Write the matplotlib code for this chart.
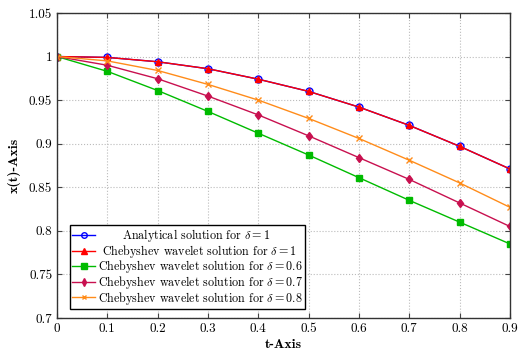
import matplotlib
matplotlib.use("Agg")
import matplotlib.pyplot as plt
from matplotlib.ticker import FixedLocator, FixedFormatter

plt.rcParams['font.family'] = 'serif'
plt.rcParams['font.serif'] = ['cmr10', 'DejaVu Serif']
plt.rcParams['mathtext.fontset'] = 'cm'
plt.rcParams['axes.unicode_minus'] = False

t = [0, 0.1, 0.2, 0.3, 0.4, 0.5, 0.6, 0.7, 0.8, 0.9]
analytical_d1 = [1.0, 0.999, 0.994, 0.986, 0.974, 0.960, 0.942, 0.921, 0.897, 0.871]
cheb_d1 = [1.0, 0.999, 0.994, 0.986, 0.974, 0.960, 0.942, 0.921, 0.897, 0.871]
cheb_d06 = [1.0, 0.983, 0.961, 0.937, 0.912, 0.887, 0.861, 0.835, 0.810, 0.785]
cheb_d07 = [1.0, 0.990, 0.9745, 0.9546, 0.933, 0.909, 0.884, 0.859, 0.832, 0.805]
cheb_d08 = [1.0, 0.995, 0.984, 0.968, 0.950, 0.929, 0.906, 0.881, 0.855, 0.827]

xticks = [0, 0.1, 0.2, 0.3, 0.4, 0.5, 0.6, 0.7, 0.8, 0.9]
xticklabels = ['0', '0.1', '0.2', '0.3', '0.4', '0.5', '0.6', '0.7', '0.8', '0.9']
yticks = [0.7, 0.75, 0.8, 0.85, 0.9, 0.95, 1.0, 1.05]
yticklabels = ['0.7', '0.75', '0.8', '0.85', '0.9', '0.95', '1', '1.05']

fig = plt.figure(figsize=(5.23, 3.6), dpi=100)
ax = fig.add_axes([0.109, 0.1167, 0.866, 0.8473])

ax.plot(t, analytical_d1, color='#0000ff', marker='o', markersize=5, markerfacecolor='none',
        markeredgewidth=1.0, lw=1.0, label='      Analytical solution for $\\delta=1$')
ax.plot(t, cheb_d1, color='#ff0000', marker='^', markersize=5, lw=1.0,
        label=' Chebyshev wavelet solution for $\\delta=1$')
ax.plot(t, cheb_d06, color='#00bb00', marker='s', markersize=5, lw=1.0,
        label='Chebyshev wavelet solution for $\\delta=0.6$')
ax.plot(t, cheb_d07, color='#c8104f', marker='d', markersize=4.5, lw=1.0,
        label='Chebyshev wavelet solution for $\\delta=0.7$')
ax.plot(t, cheb_d08, color='#ff8c1a', marker='x', markersize=4, lw=1.0,
        label='Chebyshev wavelet solution for $\\delta=0.8$')

ax.set_xlim(0, 0.9)
ax.set_ylim(0.7, 1.05)
ax.xaxis.set_major_locator(FixedLocator(xticks))
ax.xaxis.set_major_formatter(FixedFormatter(xticklabels))
ax.yaxis.set_major_locator(FixedLocator(yticks))
ax.yaxis.set_major_formatter(FixedFormatter(yticklabels))
ax.tick_params(direction='in', length=3.5, labelsize=9.5, top=True, right=True, color='#444444')
ax.grid(True, linestyle=':', color='#bbbbbb', lw=0.8)
for s in ax.spines.values():
    s.set_color('#333333')
    s.set_linewidth(1.0)

ax.set_xlabel('t-Axis', fontsize=10, fontfamily='cmb10', labelpad=3)
ax.set_ylabel('x(t)-Axis', fontsize=10, fontfamily='cmb10', labelpad=6)

leg = ax.legend(loc='lower left', bbox_to_anchor=(0.0287, 0.0295), fontsize=8.7, frameon=True,
                fancybox=False, edgecolor='black', framealpha=1, borderpad=0.2,
                labelspacing=-0.12, handlelength=1.85, handletextpad=0.25, borderaxespad=0,
                markerscale=0.8)
leg.get_frame().set_linewidth(1.0)

fig.savefig('out.png', dpi=100)
